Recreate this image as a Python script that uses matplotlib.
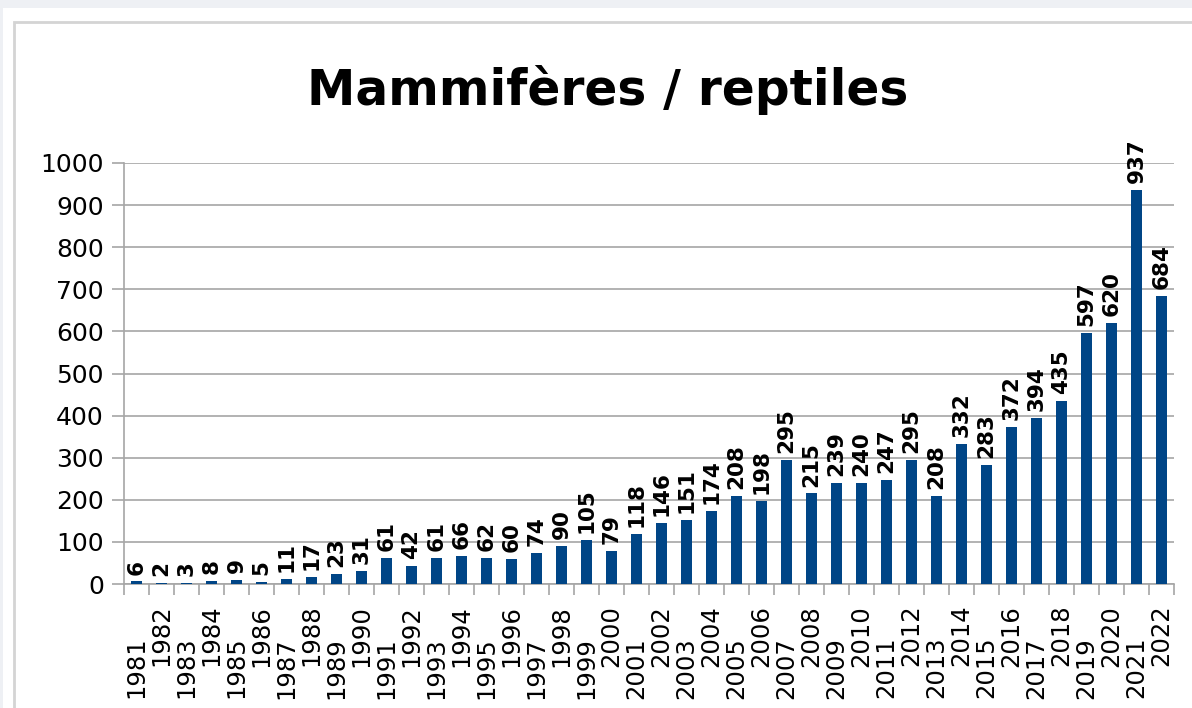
import matplotlib
matplotlib.use("Agg")
import matplotlib.pyplot as plt
from matplotlib.patches import Rectangle
import numpy as np

annees = [str(a) for a in range(1981, 2023)]
valeurs = [6, 2, 3, 8, 9, 5, 11, 17, 23, 31, 61, 42, 61, 66, 62, 60, 74, 90,
           105, 79, 118, 146, 151, 174, 208, 198, 295, 215, 239, 240, 247, 295,
           208, 332, 283, 372, 394, 435, 597, 620, 937, 684]

W, H = 1192, 708
fig = plt.figure(figsize=(W / 100, H / 100), dpi=100)
fig.patch.set_facecolor("#eef0f4")

# panneau blanc + cadre gris
fig.patches.append(Rectangle((3 / W, 0), 1, 1 - 8 / H, transform=fig.transFigure,
                             facecolor="white", edgecolor="none", zorder=-2))
fig.patches.append(Rectangle((14 / W, -0.1), 1, 1.1 - 22 / H, transform=fig.transFigure,
                             facecolor="white", edgecolor="#d4d4d4", linewidth=2, zorder=-1))

ax = fig.add_axes([124 / W, 1 - 584 / H, (1174 - 124) / W, (584 - 163) / H])
ax.set_facecolor("white")

x = np.arange(len(annees))
ax.bar(x, valeurs, width=0.44, color="#004586", zorder=3)

for xi, v in zip(x, valeurs):
    ax.annotate(str(v), (xi, v), xytext=(0, 5), textcoords="offset points",
                rotation=90, ha="center", va="bottom", fontsize=15.5,
                fontweight="bold", color="black", zorder=4)

ax.set_xlim(-0.5, len(annees) - 0.5)
ax.set_ylim(0, 1000)
ax.set_yticks(range(0, 1001, 100))
ax.yaxis.grid(True, color="#a6a6a6", linewidth=1.2, zorder=0)
ax.set_axisbelow(True)

for s in ["top", "right"]:
    ax.spines[s].set_visible(False)
for s in ["left", "bottom"]:
    ax.spines[s].set_color("#a6a6a6")
    ax.spines[s].set_linewidth(1.2)

ax.tick_params(axis="y", length=8.5, width=1.2, color="#a6a6a6", labelsize=18, pad=6)

# traits de graduation entre les barres, libellés centrés sous les barres
ax.set_xticks(np.arange(-0.5, len(annees), 1), minor=True)
ax.set_xticks(x)
ax.set_xticklabels(annees, rotation=90, fontsize=17.5)
ax.tick_params(axis="x", which="minor", length=8, width=1.2, color="#a6a6a6")
ax.tick_params(axis="x", which="major", length=0)
for i, t in enumerate(ax.xaxis.get_major_ticks()):
    t.set_pad(15 if i % 2 else 38)

fig.text(608 / W, 1 - 90 / H, "Mammifères / reptiles", ha="center", va="center",
         fontsize=35, fontweight="bold")

fig.savefig("out.png", dpi=100, facecolor=fig.get_facecolor())
